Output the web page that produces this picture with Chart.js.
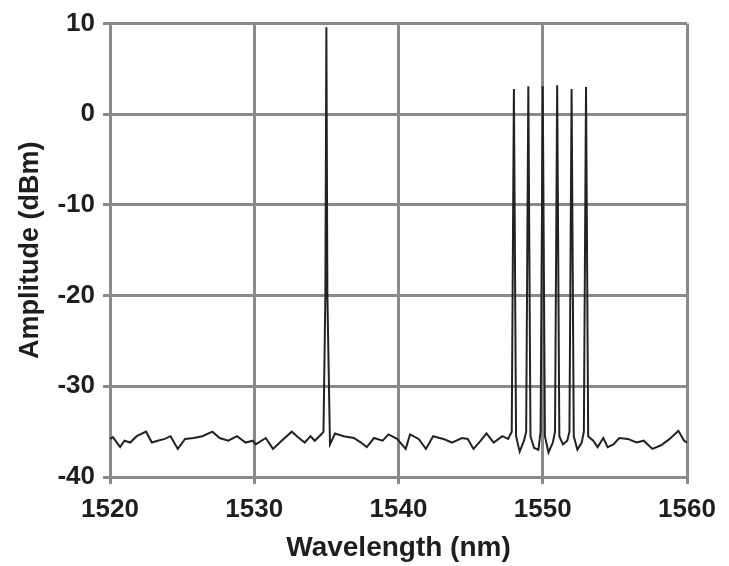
<!DOCTYPE html>
<html>
<head>
<meta charset="utf-8">
<script src="https://cdn.jsdelivr.net/npm/chart.js@4.4.1/dist/chart.umd.min.js"></script>
<style>
  html, body { margin: 0; padding: 0; background: #fff; }
  #wrap { width: 729px; height: 566px; }
</style>
</head>
<body>
<div id="wrap"><canvas id="spectrum"></canvas></div>
<script>
// wavelength (nm) and amplitude (dBm)
var wavelength = [
  1520.0, 1520.2, 1520.7, 1521.0, 1521.4, 1521.85, 1522.5, 1522.9, 1523.3, 1523.8,
  1524.2, 1524.7, 1525.2, 1525.8, 1526.4, 1527.1, 1527.6, 1528.2, 1528.8, 1529.4,
  1529.9, 1530.1, 1530.8, 1531.3, 1531.9, 1532.6, 1533.1, 1533.5, 1533.9, 1534.2,
  1534.7, 1534.8, 1534.93, 1535.0, 1535.07, 1535.25, 1535.6, 1536.2, 1536.9, 1537.4,
  1537.8, 1538.3, 1538.9, 1539.3, 1539.9, 1540.5, 1540.8, 1541.4, 1541.9, 1542.4,
  1543.1, 1543.7, 1544.4, 1544.8, 1545.2, 1545.7, 1546.1, 1546.6, 1547.2, 1547.6,
  1547.85, 1548.0, 1548.15, 1548.4, 1548.7, 1548.85, 1549.0, 1549.15, 1549.4, 1549.7,
  1549.85, 1550.0, 1550.15, 1550.4, 1550.7, 1550.85, 1551.0, 1551.15, 1551.4, 1551.7,
  1551.85, 1552.0, 1552.15, 1552.4, 1552.7, 1552.85, 1553.0, 1553.15, 1553.5, 1553.8,
  1554.2, 1554.5, 1554.9, 1555.3, 1555.9, 1556.5, 1557.0, 1557.6, 1558.2, 1558.8,
  1559.4, 1559.8, 1560.0
];
var amplitude = [
  -35.8, -35.6, -36.7, -36.0, -36.2, -35.5, -35.0, -36.2, -36.0, -35.8,
  -35.5, -36.9, -35.8, -35.7, -35.5, -35.0, -35.7, -36.0, -35.5, -36.2,
  -36.0, -36.4, -35.7, -36.9, -36.0, -35.0, -35.7, -36.2, -35.5, -36.0,
  -35.2, -35.0, -20.0, 9.6, -20.0, -36.4, -35.2, -35.5, -35.7, -36.2,
  -36.7, -35.7, -36.0, -35.3, -35.8, -36.9, -35.3, -35.8, -36.9, -35.5,
  -35.8, -36.2, -35.7, -35.8, -36.9, -36.0, -35.2, -36.2, -35.5, -35.8,
  -35.0, 2.8, -35.5, -37.2, -36.0, -35.0, 3.1, -35.5, -36.8, -37.0,
  -35.0, 3.1, -35.5, -37.3, -36.2, -35.0, 3.2, -35.5, -36.4, -36.0,
  -35.0, 2.8, -35.5, -37.0, -36.2, -35.0, 3.0, -35.5, -36.0, -36.7,
  -35.7, -36.7, -36.4, -35.7, -35.8, -36.2, -36.0, -36.9, -36.5, -35.8,
  -34.9, -36.0, -36.2
];
var xTicks = [1520, 1530, 1540, 1550, 1560];
var yTicks = [-40, -30, -20, -10, 0, 10];

var points = wavelength.map(function (w, i) { return { x: w, y: amplitude[i] }; });

var gridColor = '#8a8a8a';
var textColor = '#1e1e1e';
var tickFont = { family: 'Liberation Sans, Arial, sans-serif', size: 26, weight: 'bold' };
var xTitleFont = { family: 'Liberation Sans, Arial, sans-serif', size: 28, weight: 'bold' };
var yTitleFont = { family: 'Liberation Sans, Arial, sans-serif', size: 27, weight: 'bold' };

var ctx = document.getElementById('spectrum').getContext('2d');
var chart = new Chart(ctx, {
    type: 'scatter',
    data: {
        datasets: [{
            data: points,
            showLine: true,
            borderColor: '#222',
            borderWidth: 2,
            pointRadius: 0,
            tension: 0
        }]
    },
    options: {
        responsive: true,
        maintainAspectRatio: false,
        animation: false,
        layout: { padding: { top: 17, right: 42, left: 0, bottom: 0 } },
        plugins: { legend: { display: false }, tooltip: { enabled: false } },
        scales: {
            x: {
                type: 'linear',
                min: xTicks[0],
                max: xTicks[xTicks.length - 1],
                afterBuildTicks: function (s) { s.ticks = xTicks.map(function (v) { return { value: v }; }); },
                afterFit: function (s) { s.height = 89; },
                grid: { color: gridColor, lineWidth: 3, tickLength: 7 },
                border: { color: gridColor, width: 3 },
                ticks: {
                    color: textColor, font: tickFont, padding: 10, maxRotation: 0,
                    callback: function (v) { return String(v); }
                },
                title: { display: true, text: 'Wavelength (nm)', color: textColor, font: xTitleFont, padding: { bottom: 1 } }
            },
            y: {
                min: yTicks[0],
                max: yTicks[yTicks.length - 1],
                afterBuildTicks: function (s) { s.ticks = yTicks.map(function (v) { return { value: v }; }); },
                afterFit: function (s) { s.width = 110; },
                grid: { color: gridColor, lineWidth: 3, tickLength: 7 },
                border: { color: gridColor, width: 3 },
                ticks: { color: textColor, font: tickFont, padding: 8 },
                title: { display: true, text: 'Amplitude (dBm)', color: textColor, font: yTitleFont, padding: { top: 14 } }
            }
        }
    }
});
</script>
</body>
</html>
